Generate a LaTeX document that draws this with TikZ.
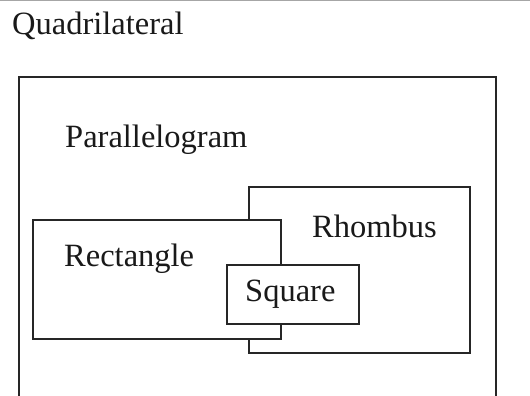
\documentclass[tikz,border=0pt]{standalone}
\usepackage{fontspec}
\setmainfont{Liberation Serif}
\begin{document}
\begin{tikzpicture}[x=1pt,y=-1pt,
  box/.style={draw=black!85,line width=1.3pt,fill=white,inner sep=0pt,outer sep=0pt,rectangle},
  lbl/.style={anchor=base west,inner sep=0pt,font=\fontsize{32.5}{39}\selectfont,text=black!90}]
\useasboundingbox (0,0) rectangle (530,396);
\draw[black!35,line width=1pt] (0,0.5) -- (530,0.5);
% outer (open at bottom, extends past edge)
\node[box,fill=none,minimum width=477pt,minimum height=330pt,anchor=north west] (quad) at (19,77) {};
\node[box,minimum width=221pt,minimum height=166pt,anchor=north west] (rhombus) at (249,187) {};
\node[box,minimum width=248pt,minimum height=119pt,anchor=north west] (rect) at (33,220) {};
\node[box,minimum width=132pt,minimum height=59pt,anchor=north west] (square) at (227,265) {};
\node[lbl] (tq) at (12,35) {Quadrilateral};
\node[lbl] (tp) at (65,147) {Parallelogram};
\node[lbl] (tr) at (312,237) {Rhombus};
\node[lbl] (tre) at (64,266) {Rectangle};
\node[lbl] (ts) at (245,301) {Square};
\end{tikzpicture}
\end{document}
